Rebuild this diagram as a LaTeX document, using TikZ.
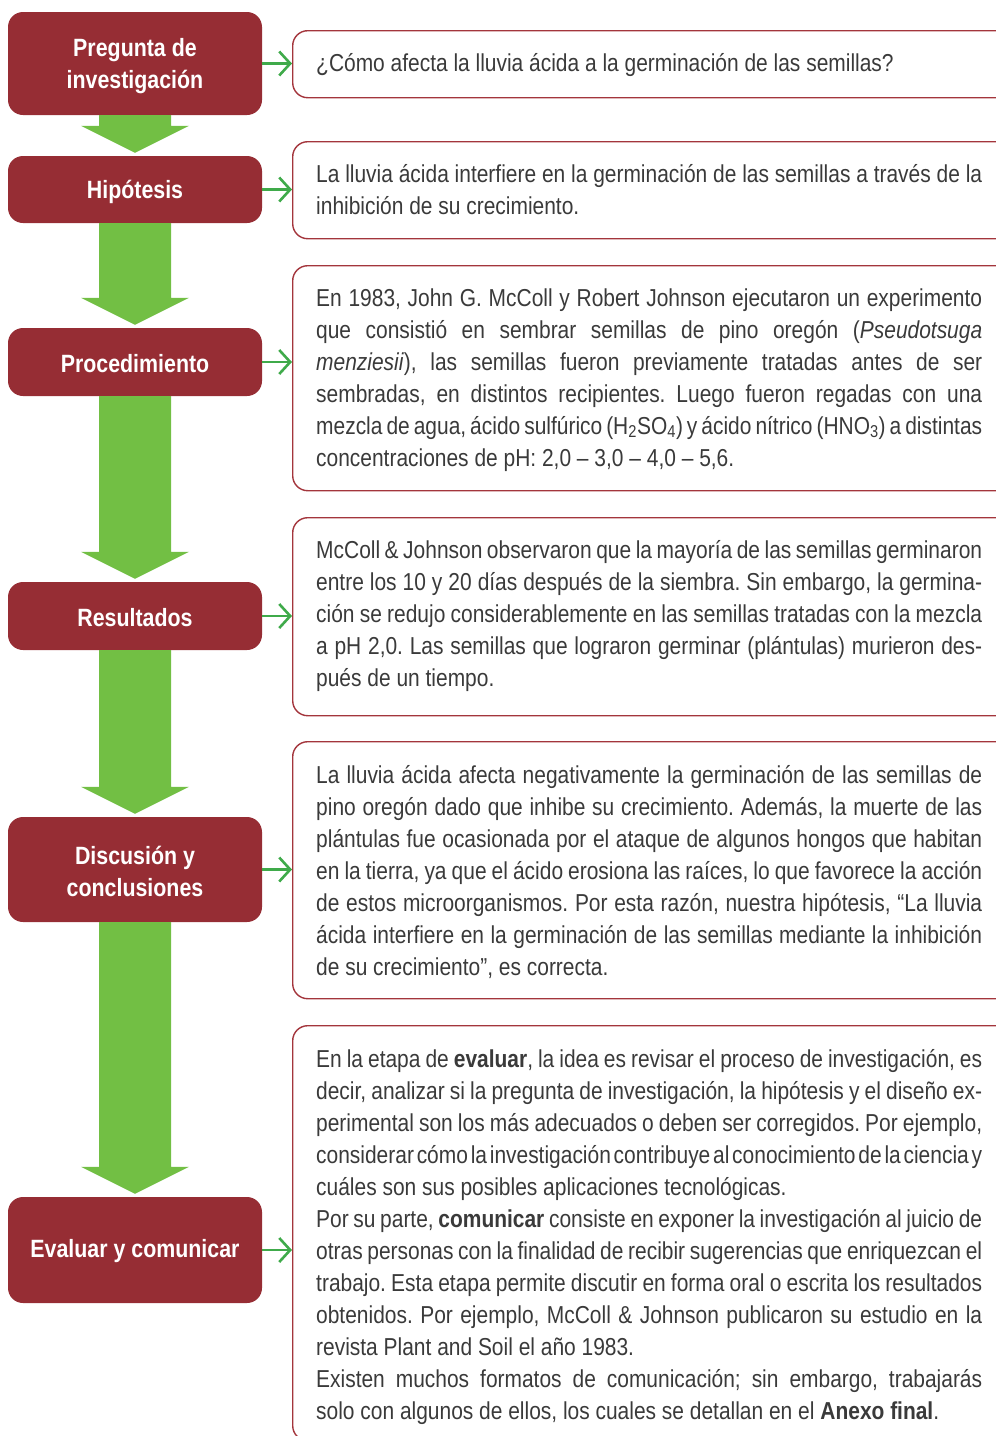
\documentclass[tikz,border=0pt]{standalone}
\usepackage{fontspec}
\setmainfont{Liberation Sans}[FakeStretch=0.855]
\usetikzlibrary{calc,arrows.meta}
\definecolor{boxred}{HTML}{962D34}
\definecolor{linered}{HTML}{A3353C}
\definecolor{biggreen}{HTML}{72BF44}
\definecolor{smallgreen}{HTML}{3FAA4A}
\definecolor{txt}{HTML}{3A3A3A}
\newcommand\jl[1]{\leavevmode\hbox to 666pt{\spaceskip=\fontdimen2\font plus \fontdimen3\font minus 0.55\fontdimen2\font\xspaceskip=0pt #1}}
\newcommand\bigarrow[2]{%
  \fill[biggreen] let \p1=(#1.south), \p2=(#2.north) in
    (\x1-36pt,\y1) -- (\x1+36pt,\y1) -- (\x1+36pt,\y2+30pt) -- (\x1+54pt,\y2+30pt)
    -- (\x1,\y2+3pt) -- (\x1-54pt,\y2+30pt) -- (\x1-36pt,\y2+30pt) -- cycle;}
\begin{document}
\begin{tikzpicture}[x=1pt,y=-1pt,
  lbox/.style={fill=boxred, rounded corners=15pt, minimum width=254pt, inner sep=0pt},
  ltitle/.style={text=white, font=\bfseries\fontsize{25}{32}\selectfont, align=center, inner sep=0pt,
    execute at begin node={\spaceskip=0pt\xspaceskip=0pt\frenchspacing}},
  rbox/.style={draw=linered, line width=1.4pt, rounded corners=15pt, minimum width=720pt,
    anchor=north west, inner sep=0pt},
  rtext/.style={anchor=base west, inner sep=0pt, text=txt,
    font=\fontsize{24.5}{32}\selectfont, align=left, text width=680pt,
    execute at begin node={\spaceskip=0pt\xspaceskip=0pt\frenchspacing}},
  smallarr/.style={draw=smallgreen, line width=2.6pt,
    -{Straight Barb[length=11pt,width=24pt]}}]
\useasboundingbox (0,0) rectangle (996,1436);
\clip (0,0) rectangle (996,1436);

% left boxes
\node[lbox, minimum height=103pt] (b1) at (135,63.5) {};
\node[lbox, minimum height=67pt] (b2) at (135,189.5) {};
\node[lbox, minimum height=68pt] (b3) at (135,362) {};
\node[lbox, minimum height=68pt] (b4) at (135,616) {};
\node[lbox, minimum height=105pt] (b5) at (135,869.5) {};
\node[lbox, minimum height=106pt] (b6) at (135,1250) {};
\node[ltitle] (b1t) at ([yshift=-3pt]b1.center) {Pregunta de\\investigación};
\node[ltitle] (b2t) at ([yshift=-2pt]b2.center) {Hipótesis};
\node[ltitle] (b3t) at ([yshift=-2pt]b3.center) {Procedimiento};
\node[ltitle] (b4t) at ([yshift=-1.5pt]b4.center) {Resultados};
\node[ltitle] (b5t) at ([yshift=-2pt]b5.center) {Discusión y\\conclusiones};
\node[ltitle] (b6t) at ([yshift=-1pt]b6.center) {Evaluar y comunicar};

% big arrows
\bigarrow{b1}{b2}
\bigarrow{b2}{b3}
\bigarrow{b3}{b4}
\bigarrow{b4}{b5}
\bigarrow{b5}{b6}

% right boxes
\node[rbox, minimum height=67pt] (r1) at (292,30) {};
\node[rbox, minimum height=97pt] (r2) at (292,141) {};
\node[rbox, minimum height=225pt] (r3) at (292,265) {};
\node[rbox, minimum height=198pt] (r4) at (292,517) {};
\node[rbox, minimum height=257pt] (r5) at (292,741) {};
\node[rbox, minimum height=415pt] (r6) at (292,1025) {};

% small arrows
\foreach \i in {1,...,6}{\draw[smallarr] (b\i.east) -- (b\i.east -| r\i.west);}

% texts
\node[rtext] (t1) at (316,71) {¿Cómo afecta la lluvia ácida a la germinación de las semillas?};

\node[rtext] (t2) at (316,182) {%
\jl{La lluvia ácida interfiere en la germinación de las semillas a través de la}\\
inhibición de su crecimiento.};

\node[rtext] (t3) at (316,306) {%
\jl{En 1983, John G. McColl y Robert Johnson ejecutaron un experimento}\\
\jl{que consistió en sembrar semillas de pino oregón (\textit{Pseudotsuga}}\\
\jl{\textit{menziesii}), las semillas fueron previamente tratadas antes de ser}\\
\jl{sembradas, en distintos recipientes. Luego fueron regadas con una}\\
\jl{mezcla de agua, ácido sulfúrico (H\textsubscript{2}SO\textsubscript{4}) y ácido nítrico (HNO\textsubscript{3}) a distintas}\\
concentraciones de pH: 2,0 – 3,0 – 4,0 – 5,6.};

\node[rtext] (t4) at (316,558) {%
\jl{McColl \& Johnson observaron que la mayoría de las semillas germinaron}\\
\jl{entre los 10 y 20 días después de la siembra. Sin embargo, la germina-}\\
\jl{ción se redujo considerablemente en las semillas tratadas con la mezcla}\\
\jl{a pH 2,0. Las semillas que lograron germinar (plántulas) murieron des-}\\
pués de un tiempo.};

\node[rtext] (t5) at (316,783) {%
\jl{La lluvia ácida afecta negativamente la germinación de las semillas de}\\
\jl{pino oregón dado que inhibe su crecimiento. Además, la muerte de las}\\
\jl{plántulas fue ocasionada por el ataque de algunos hongos que habitan}\\
\jl{en la tierra, ya que el ácido erosiona las raíces, lo que favorece la acción}\\
\jl{de estos microorganismos. Por esta razón, nuestra hipótesis, “La lluvia}\\
\jl{ácida interfiere en la germinación de las semillas mediante la inhibición}\\
de su crecimiento”, es correcta.};

\node[rtext] (t6) at (316,1067) {%
\jl{En la etapa de \textbf{evaluar}, la idea es revisar el proceso de investigación, es}\\
\jl{decir, analizar si la pregunta de investigación, la hipótesis y el diseño ex-}\\
\jl{perimental son los más adecuados o deben ser corregidos. Por ejemplo,}\\
\jl{considerar cómo la investigación contribuye al conocimiento de la ciencia y}\\
cuáles son sus posibles aplicaciones tecnológicas.\\
\jl{Por su parte, \textbf{comunicar} consiste en exponer la investigación al juicio de}\\
\jl{otras personas con la finalidad de recibir sugerencias que enriquezcan el}\\
\jl{trabajo. Esta etapa permite discutir en forma oral o escrita los resultados}\\
\jl{obtenidos. Por ejemplo, McColl \& Johnson publicaron su estudio en la}\\
revista Plant and Soil el año 1983.\\
\jl{Existen muchos formatos de comunicación; sin embargo, trabajarás}\\
solo con algunos de ellos, los cuales se detallan en el \textbf{Anexo final}.};
\end{tikzpicture}
\end{document}
